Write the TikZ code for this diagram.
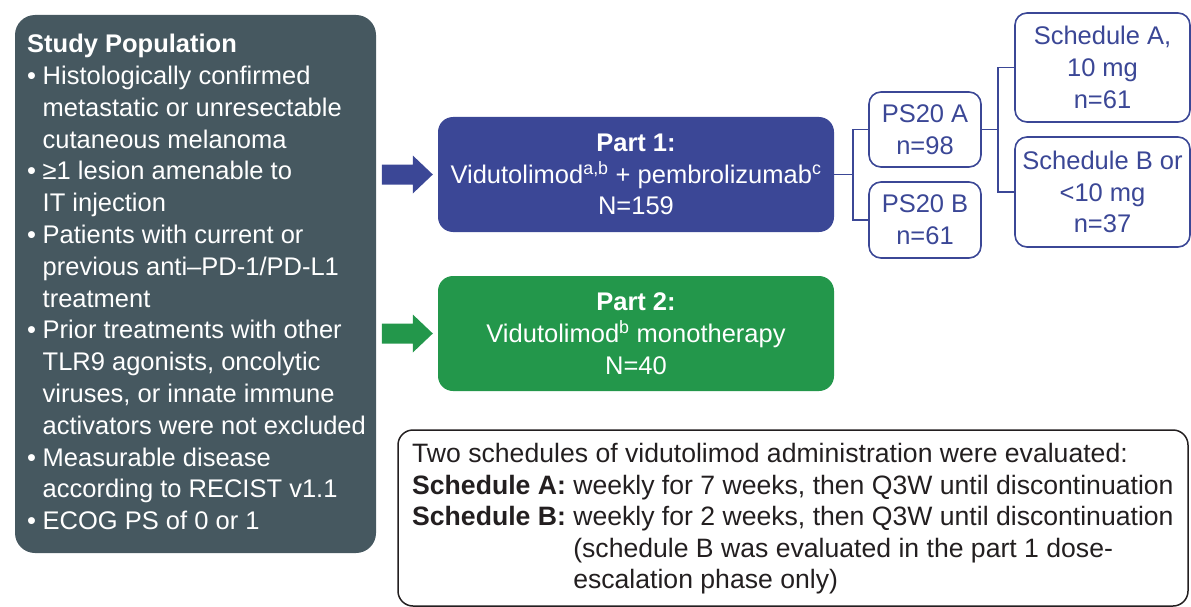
\documentclass[tikz,border=0pt]{standalone}
\usepackage{fontspec}
\setmainfont{Liberation Sans}
\usetikzlibrary{calc}
\definecolor{slate}{RGB}{70,88,96}
\definecolor{pblue}{RGB}{59,71,150}
\definecolor{pgreen}{RGB}{35,151,75}
\definecolor{ink}{RGB}{35,31,32}
\newcommand\mybul{\makebox[15.5pt][l]{•}}
\newcommand\myind{\hspace*{15.5pt}}
\begin{document}
\begin{tikzpicture}[x=1pt,y=-1pt,
  font=\fontsize{25.5}{31.8}\selectfont,
  partbox/.style={rounded corners=15pt, minimum width=396pt, minimum height=115pt, text=white, align=center, inner sep=0pt},
  smallbox/.style={draw=pblue, fill=white, line width=1.6pt, rounded corners=12pt, text=pblue, align=center, inner sep=0pt},
  link/.style={draw=pblue, line width=1.6pt},
  plain/.style={inner sep=0pt, align=left}]
\useasboundingbox (0,0) rectangle (1191,607);
% study population
\node[fill=slate, rounded corners=20pt, minimum width=361pt, minimum height=538pt, inner sep=0pt] (pop) at (195.5,284) {};
\node[plain, anchor=north west, text=white] (poptext) at (27,34) {\textbf{Study Population}\\
\mybul Histologically confirmed\\
\myind metastatic or unresectable\\
\myind cutaneous melanoma\\
\mybul ≥1 lesion amenable to\\
\myind IT injection\\
\mybul Patients with current or\\
\myind previous anti–PD-1/PD-L1\\
\myind treatment\\
\mybul Prior treatments with other\\
\myind TLR9 agonists, oncolytic\\
\myind viruses, or innate immune\\
\myind activators were not excluded\\
\mybul Measurable disease\\
\myind according to RECIST v1.1\\
\mybul ECOG PS of 0 or 1};
% parts
\node[partbox, fill=pblue] (p1) at (636,174.5) {\textbf{Part 1:}\\ Vidutolimod\textsuperscript{a,b} + pembrolizumab\textsuperscript{c}\\ N=159};
\node[partbox, fill=pgreen] (p2) at (636,333.5) {\textbf{Part 2:}\\ Vidutolimod\textsuperscript{b} monotherapy\\ N=40};
% block arrows
\fill[pblue] ($(p1.west)+(-56,-10)$) -- ++(31,0) -- ++(0,-9) -- ($(p1.west)+(-5,0)$) -- ($(p1.west)+(-25,19)$) -- ++(0,-9) -- ++(-31,0) -- cycle;
\fill[pgreen] ($(p2.west)+(-56,-10)$) -- ++(31,0) -- ++(0,-9) -- ($(p2.west)+(-5,0)$) -- ($(p2.west)+(-25,19)$) -- ++(0,-9) -- ++(-31,0) -- cycle;
% subgroups
\node[smallbox, minimum width=112pt, minimum height=75pt] (psa) at (925,129.5) {PS20 A\\ n=98};
\node[smallbox, minimum width=112pt, minimum height=76pt] (psb) at (925,220) {PS20 B\\ n=61};
\node[smallbox, minimum width=175pt, minimum height=109pt] (scha) at (1102.5,67.5) {Schedule A,\\ 10 mg\\ n=61};
\node[smallbox, minimum width=175pt, minimum height=110pt] (schb) at (1102.5,192) {Schedule B or\\ <10 mg\\ n=37};
% connectors
\coordinate (j1) at ($(p1.east)+(19,0)$);
\coordinate (j2) at ($(psa.east)+(16,0)$);
\draw[link] (p1.east) -- (j1);
\draw[link] (psa.west) -| (j1);
\draw[link] (psb.west) -| (j1);
\draw[link] (psa.east) -- (j2);
\draw[link] (scha.west) -| (j2);
\draw[link] (schb.west) -| (j2);
% note
\node[draw=ink, line width=1.5pt, rounded corners=15pt, minimum width=790pt, minimum height=176pt, inner sep=0pt] (note) at (793,518) {};
\node[plain, anchor=north west, text=ink, font=\fontsize{26.6}{31.6}\selectfont] (notetext) at (412,443) {Two schedules of vidutolimod administration were evaluated:\\
\textbf{Schedule A:} weekly for 7 weeks, then Q3W until discontinuation\\
\textbf{Schedule B:} weekly for 2 weeks, then Q3W until discontinuation\\
\hphantom{\textbf{Schedule B:} }(schedule B was evaluated in the part 1 dose-\\
\hphantom{\textbf{Schedule B:} }escalation phase only)};
\end{tikzpicture}
\end{document}
